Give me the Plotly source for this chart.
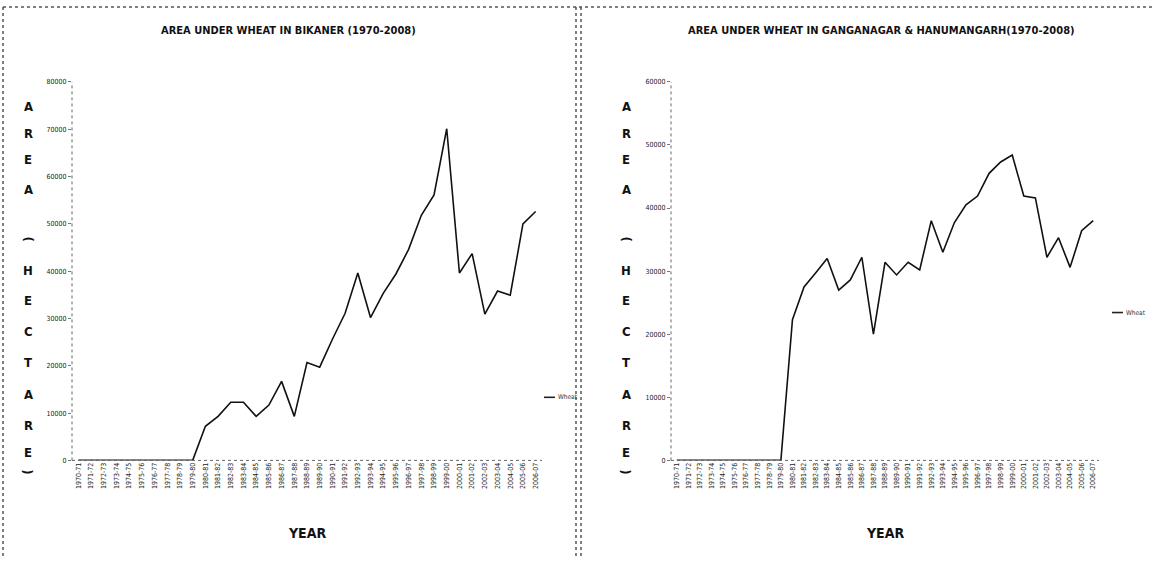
import plotly.graph_objects as go

# Agricultural years 1970-71 .. 2006-07
years = [f"{y}-{str(y + 1)[-2:]}" for y in range(1970, 2007)]

# Area under wheat (hectare)
bikaner_wheat = [0, 0, 0, 0, 0, 0, 0, 0, 0, 0,
                 7200, 9300, 12300, 12300, 9300, 11700, 16700, 9300, 20700, 19700,
                 25600, 31100, 39600, 30200, 35300, 39400, 44600, 51800, 56100, 70100,
                 39600, 43700, 30900, 35800, 34900, 50000, 52600]
ganganagar_wheat = [0, 0, 0, 0, 0, 0, 0, 0, 0, 0,
                    22300, 27500, 29700, 32000, 27000, 28600, 32200, 20000, 31400, 29400,
                    31400, 30200, 38000, 33000, 37700, 40500, 41900, 45500, 47300, 48400,
                    41900, 41600, 32200, 35300, 30600, 36400, 38000]

titles = ["AREA UNDER WHEAT IN BIKANER (1970-2008)",
          "AREA UNDER WHEAT IN GANGANAGAR & HANUMANGARH(1970-2008)"]
y_ranges = [80000, 60000]
y_letters = list("AREA") + ["("] + list("HECTARE") + [")"]
series_name = "Wheat"

W, H = 1154, 561
SMALL = "DejaVu Sans Condensed, Liberation Sans Narrow, sans-serif"
BOLD = "DejaVu Sans Condensed, Liberation Sans Narrow, sans-serif"
TICK_FONT = dict(family=SMALL, size=7, color="#222")


def px_x(p):
    return p / W


def px_y(p):
    return 1 - p / H


# pixel layout of the two panels
plot_left = [72, 671]
plot_right = [542, 1099]
plot_top, plot_bottom = 79, 463
letter_x = [28, 626]
title_cx = [288, 881]
letter_y = [104, 131, 158, 188, 238, 270, 301, 332, 364, 396, 428, 455, 474]
legend_pos = [(544, 399), (1112, 313)]

fig = go.Figure()
series = [bikaner_wheat, ganganagar_wheat]
for i in range(2):
    sfx = "" if i == 0 else "2"
    fig.add_trace(go.Scatter(
        x=years, y=series[i], mode="lines", name=series_name,
        line=dict(color="#111", width=1.6),
        xaxis="x" + sfx, yaxis="y" + sfx, showlegend=False,
    ))

layout = dict(
    width=W, height=H, margin=dict(l=0, r=0, t=0, b=0),
    paper_bgcolor="white", plot_bgcolor="white",
)
shapes = []
annotations = []
for i in range(2):
    sfx = "" if i == 0 else "2"
    xd = [px_x(plot_left[i]), px_x(plot_right[i])]
    yd = [px_y(plot_bottom), px_y(plot_top)]
    layout["xaxis" + sfx] = dict(
        domain=xd, anchor="y" + sfx, type="category",
        tickangle=-90, tickfont=TICK_FONT, showgrid=False, zeroline=False,
        showline=False, ticks="", range=[-0.5, len(years) - 0.5],
    )
    layout["yaxis" + sfx] = dict(
        domain=yd, anchor="x" + sfx, range=[0, y_ranges[i]], dtick=10000,
        tickfont=TICK_FONT, showgrid=False, zeroline=False, showline=False,
        ticks="outside", ticklen=3, tickcolor="#777", tickformat="d",
    )
    # dotted axis lines
    shapes.append(dict(type="line", xref="paper", yref="paper",
                       x0=xd[0], x1=xd[0], y0=yd[0], y1=yd[1],
                       line=dict(color="#666", width=1, dash="dot")))
    shapes.append(dict(type="line", xref="paper", yref="paper",
                       x0=xd[0], x1=xd[1], y0=yd[0], y1=yd[0],
                       line=dict(color="#666", width=1, dash="dot")))
    # panel title
    annotations.append(dict(
        text="<b>" + titles[i] + "</b>", xref="paper", yref="paper",
        x=px_x(title_cx[i]), y=px_y(27), showarrow=False,
        font=dict(family=BOLD, size=11, color="#111"),
        xanchor="center", yanchor="middle"))
    # x axis title
    annotations.append(dict(
        text="<b>YEAR</b>", xref="paper", yref="paper",
        x=(xd[0] + xd[1]) / 2, y=px_y(537), showarrow=False,
        font=dict(family=BOLD, size=14, color="#111"),
        xanchor="center", yanchor="middle"))
    # y axis title, one letter per row
    for ch, ly in zip(y_letters, letter_y):
        annotations.append(dict(
            text="<b>" + ch + "</b>", xref="paper", yref="paper",
            x=px_x(letter_x[i]), y=px_y(ly), showarrow=False,
            textangle=90 if ch in "()" else 0,
            font=dict(family=BOLD, size=13, color="#111"),
            xanchor="center", yanchor="middle"))
    # legend: short line sample and series name
    lx, ly = legend_pos[i]
    shapes.append(dict(type="line", xref="paper", yref="paper",
                       x0=px_x(lx), x1=px_x(lx + 11), y0=px_y(ly), y1=px_y(ly),
                       line=dict(color="#222", width=1.6)))
    annotations.append(dict(
        text=series_name, xref="paper", yref="paper",
        x=px_x(lx + 12), y=px_y(ly), showarrow=False,
        font=dict(family=SMALL, size=6.5, color="#333"),
        xanchor="left", yanchor="middle"))

# panel frames (dotted)
frame = dict(color="#555", width=1.5, dash="dot")
shapes.append(dict(type="line", xref="paper", yref="paper",
                   x0=px_x(3), x1=1, y0=px_y(3), y1=px_y(3), line=frame))
for fx in (3, 576, 581):
    shapes.append(dict(type="line", xref="paper", yref="paper",
                       x0=px_x(fx), x1=px_x(fx), y0=px_y(3), y1=0, line=frame))

layout["shapes"] = shapes
layout["annotations"] = annotations
fig.update_layout(**layout)
fig.write_html("out.html")
